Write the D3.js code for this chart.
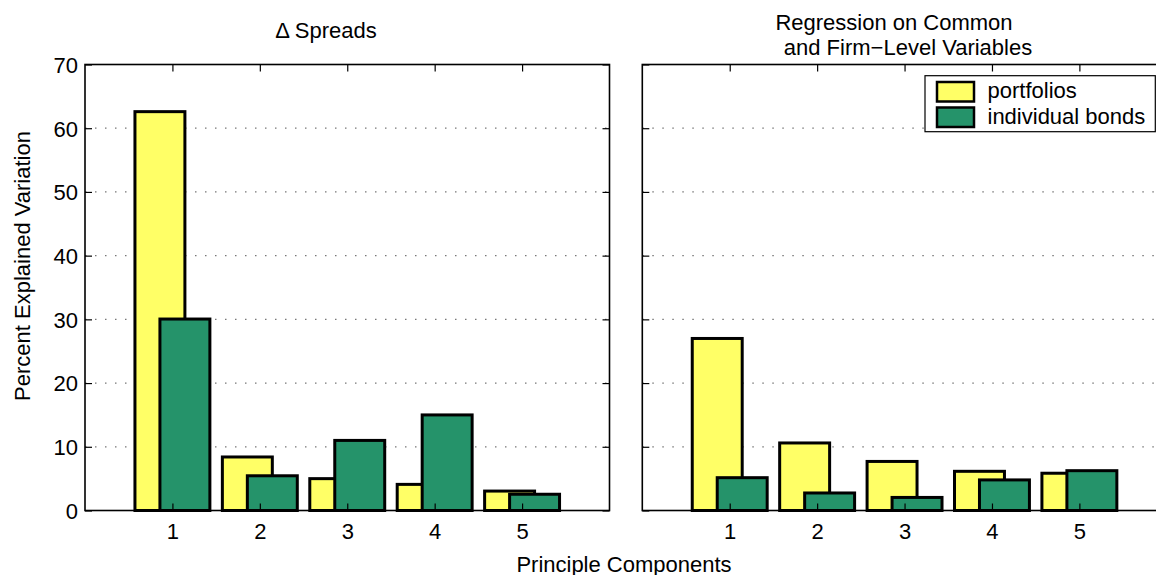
<!DOCTYPE html>
<html>
<head>
<meta charset="utf-8">
<script src="https://cdn.jsdelivr.net/npm/d3@7"></script>
<style>
  html, body { margin: 0; padding: 0; background: #fff; }
  svg { display: block; font-family: "Liberation Sans", Arial, Helvetica, sans-serif; }
</style>
</head>
<body>
<svg id="chart" width="1156" height="575"></svg>
<script>
// ---- data ----
const components = [1, 2, 3, 4, 5];
const seriesNames = ["portfolios", "individual bonds"];
const spreadsPortfolios = [62.6, 8.4, 5.0, 4.1, 3.05];
const spreadsBonds = [30.05, 5.45, 11.0, 15.0, 2.55];
const regressionPortfolios = [27.0, 10.6, 7.7, 6.15, 5.85];
const regressionBonds = [5.15, 2.75, 2.05, 4.8, 6.25];
const yTicks = [0, 10, 20, 30, 40, 50, 60, 70];
const gridTicks = [10, 20, 30, 40, 50, 60];
const panelTitles = [["\u0394 Spreads"], ["Regression on Common", "and Firm\u2212Level Variables"]];
const yLabel = "Percent Explained Variation";
const xLabel = "Principle Components";

const colors = ["#ffff66", "#25936a"];
const FS = "22px";

const svg = d3.select("#chart");
const yTop = 64.5, yBottom = 510.5;
const y = d3.scaleLinear().domain([0, 70]).range([yBottom, yTop]);

const panels = [
  { x0: 85, x1: 609.5, data: [spreadsPortfolios, spreadsBonds], title: panelTitles[0], labels: true,
    titlePos: [[326, 37.5]] },
  { x0: 642.3, x1: 1166.8, data: [regressionPortfolios, regressionBonds], title: panelTitles[1], labels: false,
    titlePos: [[894, 29.5], [908, 54.5]] }
];

const groupW = 2 / 3.5;          // grouped bar width (data units)
const offsets = [-groupW / 4, groupW / 4];

panels.forEach(p => {
  const x = d3.scaleLinear().domain([0, 6]).range([p.x0, p.x1]);
  const g = svg.append("g");

  // gridlines
  g.selectAll("line.grid").data(gridTicks).enter().append("line")
    .attr("class", "grid")
    .attr("x1", p.x0).attr("x2", p.x1)
    .attr("y1", d => y(d)).attr("y2", d => y(d))
    .attr("stroke", "#777").attr("stroke-width", 1.3)
    .attr("stroke-dasharray", "1.5,8.5");

  // bars
  p.data.forEach((vals, si) => {
    g.selectAll("rect.s" + si).data(vals).enter().append("rect")
      .attr("class", "s" + si)
      .attr("x", (d, i) => x(components[i] + offsets[si] - groupW / 2))
      .attr("width", x(groupW) - x(0))
      .attr("y", d => y(d))
      .attr("height", d => y(0) - y(d))
      .attr("fill", colors[si])
      .attr("stroke", "#000").attr("stroke-width", 3);
  });

  // axes ticks
  const axL = d3.axisLeft(y).tickValues(yTicks).tickSize(-7).tickPadding(10)
    .tickFormat(p.labels ? d3.format("d") : () => "");
  const ga = g.append("g").attr("transform", `translate(${p.x0},0)`).call(axL);
  const axR = d3.axisRight(y).tickValues(yTicks).tickSize(-7).tickFormat(() => "");
  const gr = g.append("g").attr("transform", `translate(${p.x1},0)`).call(axR);
  const axT = d3.axisTop(x).tickValues(components).tickSize(-7).tickFormat(() => "");
  const gt = g.append("g").attr("transform", `translate(0,${yTop})`).call(axT);
  const axB = d3.axisBottom(x).tickValues(components).tickSize(-7).tickPadding(16)
    .tickFormat(d3.format("d"));
  const gb = g.append("g").attr("transform", `translate(0,${yBottom})`).call(axB);

  [ga, gr, gt, gb].forEach(a => {
    a.select(".domain").remove();
    a.selectAll(".tick line").attr("stroke", "#000").attr("stroke-width", 1.2);
    a.selectAll("text").attr("fill", "#000").style("font-size", FS)
      .style("font-family", '"Liberation Sans", Arial, sans-serif');
  });
  ga.selectAll(".tick text").attr("x", -7).attr("dy", "0.36em");
  gb.selectAll(".tick text").attr("y", 28).attr("dy", null);

  // frame
  g.append("rect").attr("x", p.x0).attr("y", yTop)
    .attr("width", p.x1 - p.x0).attr("height", yBottom - yTop)
    .attr("fill", "none").attr("stroke", "#000").attr("stroke-width", 1.6);

  // titles
  p.title.forEach((t, i) => {
    svg.append("text").attr("x", p.titlePos[i][0]).attr("y", p.titlePos[i][1])
      .attr("text-anchor", "middle").style("font-size", FS).text(t);
  });
});

// y label
svg.append("text")
  .attr("transform", "translate(30,266) rotate(-90)")
  .attr("text-anchor", "middle").style("font-size", FS).text(yLabel);

// x label
svg.append("text").attr("x", 624).attr("y", 571.5)
  .attr("text-anchor", "middle").style("font-size", FS).text(xLabel);

// legend
const lg = svg.append("g");
lg.append("rect").attr("x", 925).attr("y", 75.7).attr("width", 230.3).attr("height", 56)
  .attr("fill", "#fff").attr("stroke", "#000").attr("stroke-width", 1.2);
const swY = [82, 107.5];
const txY = [97.5, 124];
seriesNames.forEach((n, i) => {
  lg.append("rect").attr("x", 937).attr("y", swY[i]).attr("width", 37).attr("height", 19.5)
    .attr("fill", colors[i]).attr("stroke", "#000").attr("stroke-width", 2.5);
  lg.append("text").attr("x", 987.5).attr("y", txY[i]).style("font-size", FS).text(n);
});
</script>
</body>
</html>
